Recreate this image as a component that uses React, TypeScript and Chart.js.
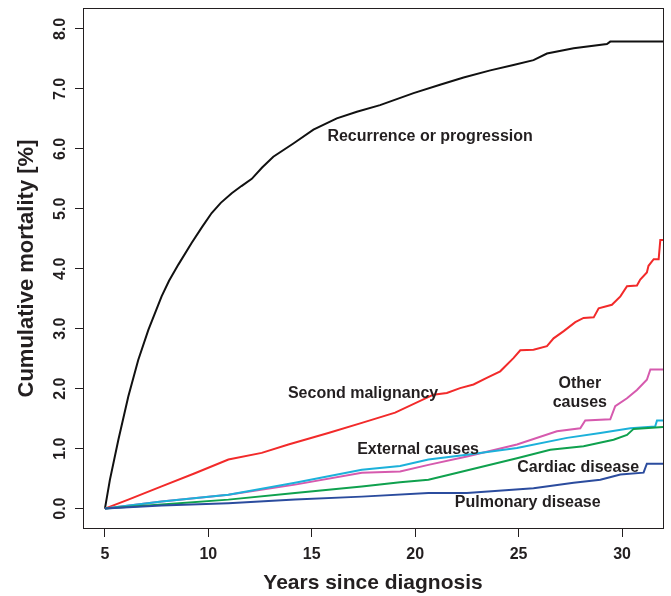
import React, { useEffect, useRef } from "react";
import { Chart, registerables } from "chart.js";

Chart.register(...registerables);

// Axis ticks
const xTickValues = [5, 10, 15, 20, 25, 30];
const yTickValues = [0, 1, 2, 3, 4, 5, 6, 7, 8];

// Recurrence or progression (black)
const recurrenceT = [5, 5.24, 5.65, 6.13, 6.61, 7.1, 7.74, 8.1, 8.55, 9.19, 9.7, 10.16, 10.6, 11.13, 11.6, 12.1, 12.6, 13.14, 14.11, 15.08, 16.21, 17.18, 18.3, 19.92, 21.2, 22.34, 23.63, 24.75, 25.72, 26.37, 27.66, 29.27, 29.43, 31.98];
const recurrenceV = [0, 0.48, 1.15, 1.87, 2.48, 2.98, 3.54, 3.8, 4.07, 4.43, 4.7, 4.93, 5.1, 5.26, 5.38, 5.5, 5.69, 5.87, 6.09, 6.32, 6.51, 6.62, 6.73, 6.93, 7.07, 7.19, 7.31, 7.4, 7.48, 7.59, 7.68, 7.75, 7.79, 7.79];

// Second malignancy (red)
const secondT = [5, 6.13, 7.74, 9.35, 10.97, 12.58, 13.87, 15.8, 17.42, 19.03, 20.88, 21.53, 22.17, 22.82, 23.46, 24.11, 24.75, 25.08, 25.72, 26.37, 26.69, 27.18, 27.74, 28.14, 28.63, 28.87, 29.51, 29.92, 30.24, 30.72, 30.88, 31.2, 31.28, 31.53, 31.77, 31.85, 31.98];
const secondV = [0, 0.15, 0.37, 0.59, 0.82, 0.93, 1.07, 1.26, 1.43, 1.6, 1.9, 1.93, 2.01, 2.07, 2.18, 2.29, 2.51, 2.64, 2.65, 2.71, 2.84, 2.96, 3.11, 3.18, 3.19, 3.34, 3.4, 3.54, 3.71, 3.72, 3.82, 3.94, 4.05, 4.16, 4.16, 4.48, 4.48];

// Other causes (pink)
const otherT = [5, 7.74, 10.97, 14.19, 17.42, 19.27, 20.64, 22.5, 24.92, 26.85, 27.98, 28.22, 29.43, 29.67, 30.24, 30.72, 31.2, 31.37, 31.98];
const otherV = [0, 0.12, 0.23, 0.4, 0.6, 0.62, 0.73, 0.87, 1.07, 1.29, 1.34, 1.47, 1.49, 1.71, 1.84, 1.98, 2.15, 2.32, 2.32];

// External causes (cyan)
const externalT = [5, 7.74, 10.97, 14.19, 17.42, 19.27, 20.64, 22.5, 24.92, 27.34, 28.95, 30.4, 31.6, 31.69, 31.98];
const externalV = [0, 0.12, 0.23, 0.43, 0.65, 0.71, 0.82, 0.9, 1.01, 1.18, 1.26, 1.34, 1.37, 1.47, 1.47];

// Cardiac disease (green)
const cardiacT = [5, 7.74, 10.97, 14.19, 17.42, 19.27, 20.64, 21.69, 24.92, 26.53, 28.14, 29.59, 30.24, 30.56, 31.98];
const cardiacV = [0, 0.07, 0.15, 0.26, 0.37, 0.44, 0.48, 0.57, 0.84, 0.98, 1.04, 1.15, 1.23, 1.33, 1.36];

// Pulmonary disease (blue)
const pulmonaryT = [5, 7.74, 10.97, 14.19, 17.42, 20.64, 22.5, 25.72, 27.66, 28.95, 29.92, 31.04, 31.2, 31.98];
const pulmonaryV = [0, 0.05, 0.09, 0.15, 0.2, 0.26, 0.26, 0.34, 0.43, 0.48, 0.57, 0.6, 0.75, 0.75];

// Curve labels (text, position in data units)
const labelTexts = ["Recurrence or progression", "Second malignancy", "Other\ncauses", "External causes", "Cardiac disease", "Pulmonary disease"];
const labelX = [20.72, 17.48, 27.96, 20.14, 27.88, 25.44];
const labelY = [6.2, 1.92, 1.925, 0.98, 0.68, 0.1];

const FONT = '"Liberation Sans", Arial, Helvetica, sans-serif';
const INK = "#231f20";

const pts = (t: number[], v: number[]) => t.map((x, i) => ({ x, y: v[i] }));

const annotatePlugin = {
  id: "annotate",
  afterDatasetsDraw(chart: any) {
    const { ctx, chartArea, scales } = chart;
    const xs = scales.x;
    const ys = scales.y;
    ctx.save();
    ctx.strokeStyle = INK;
    ctx.lineWidth = 1;
    ctx.strokeRect(
      Math.round(chartArea.left) + 0.5,
      Math.round(chartArea.top) + 0.5,
      Math.round(chartArea.right - chartArea.left),
      Math.round(chartArea.bottom - chartArea.top) - 1
    );
    ctx.font = `bold 16px ${FONT}`;
    ctx.fillStyle = INK;
    ctx.textAlign = "center";
    ctx.textBaseline = "middle";
    labelTexts.forEach((txt, i) => {
      const lines = txt.split("\n");
      const cx = xs.getPixelForValue(labelX[i]);
      const cy = ys.getPixelForValue(labelY[i]);
      const lh = 19;
      lines.forEach((ln, j) => {
        ctx.fillText(ln, cx, cy + (j - (lines.length - 1) / 2) * lh);
      });
    });
    ctx.restore();
  },
};

export default function App() {
  const ref = useRef<HTMLCanvasElement | null>(null);

  useEffect(() => {
    if (!ref.current) return;
    const mk = (label: string, t: number[], v: number[], color: string, w = 2) => ({
      label,
      data: pts(t, v),
      borderColor: color,
      backgroundColor: color,
      borderWidth: w,
      pointRadius: 0,
      fill: false,
      tension: 0,
    });
    const chart = new Chart(ref.current, {
      type: "line",
      data: {
        datasets: [
          mk("Pulmonary disease", pulmonaryT, pulmonaryV, "#2B4C9E"),
          mk("Cardiac disease", cardiacT, cardiacV, "#0FA14E"),
          mk("External causes", externalT, externalV, "#1CB1DA"),
          mk("Other causes", otherT, otherV, "#D65AAE"),
          mk("Second malignancy", secondT, secondV, "#F22A2A"),
          mk("Recurrence or progression", recurrenceT, recurrenceV, "#111111"),
        ],
      },
      options: {
        animation: false,
        responsive: false,
        maintainAspectRatio: false,
        parsing: false as any,
        layout: { padding: { top: 8, right: 8, left: 0, bottom: 0 } },
        plugins: {
          legend: { display: false },
          tooltip: { enabled: false },
        },
        scales: {
          x: {
            type: "linear",
            min: 3.94,
            max: 31.98,
            afterFit: (s: any) => {
              s.height = 67;
              s.paddingLeft = 0;
              s.paddingRight = 0;
            },
            afterBuildTicks: (s: any) => {
              s.ticks = xTickValues.map((value) => ({ value }));
            },
            border: { display: false },
            grid: {
              drawOnChartArea: false,
              drawTicks: true,
              tickLength: 8,
              tickColor: INK,
              color: INK,
            },
            ticks: {
              padding: 8,
              color: INK,
              maxRotation: 0,
              font: { family: FONT, size: 16, weight: "bold" },
              callback: (v: any) => String(v),
            },
            title: {
              display: true,
              text: "Years since diagnosis",
              color: INK,
              padding: { top: 0, bottom: 0 },
              font: { family: FONT, size: 21, weight: "bold" },
            },
          },
          y: {
            type: "linear",
            min: -0.34,
            max: 8.35,
            afterFit: (s: any) => {
              s.width = 83;
              s.paddingTop = 0;
              s.paddingBottom = 0;
            },
            afterBuildTicks: (s: any) => {
              s.ticks = yTickValues.map((value) => ({ value }));
            },
            border: { display: false },
            grid: {
              drawOnChartArea: false,
              drawTicks: true,
              tickLength: 8,
              tickColor: INK,
              color: INK,
            },
            ticks: {
              padding: 3,
              color: INK,
              minRotation: 90,
              maxRotation: 90,
              crossAlign: "center",
              font: { family: FONT, size: 16, weight: "bold" },
              callback: (v: any) => Number(v).toFixed(1),
            },
            title: {
              display: true,
              text: "Cumulative mortality [%]",
              color: INK,
              padding: { top: 14, bottom: 0 },
              font: { family: FONT, size: 22, weight: "bold" },
            },
          },
        },
      },
      plugins: [annotatePlugin],
    } as any);
    return () => chart.destroy();
  }, []);

  return (
    <div style={{ position: "absolute", left: 0, top: 0, width: 671, height: 596, background: "#fff" }}>
      <canvas ref={ref} width={671} height={596} style={{ display: "block", width: 671, height: 596 }} />
    </div>
  );
}
